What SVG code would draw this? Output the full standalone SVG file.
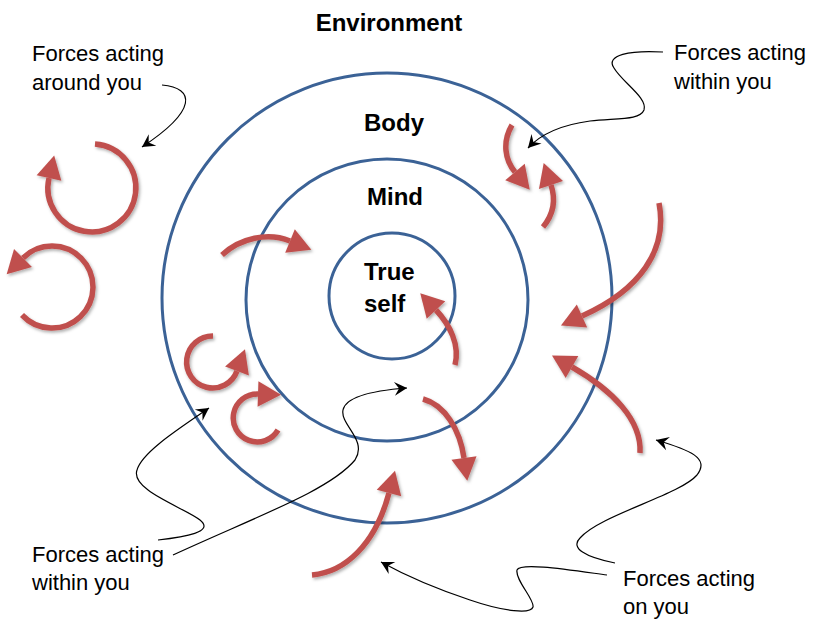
<svg xmlns="http://www.w3.org/2000/svg" width="820" height="633" viewBox="0 0 820 633">
<style>
.ring{fill:none;stroke:#3b6296;stroke-width:3}
.title{font-family:"Liberation Sans",Arial,sans-serif;font-weight:bold;font-size:24px;fill:#000}
.lbl{font-family:"Liberation Sans",Arial,sans-serif;font-size:22px;fill:#000}
.force{fill:none;stroke:#c0504d;stroke-width:5.5;marker-end:url(#rh)}
.ptr{fill:none;stroke:#000;stroke-width:1.2;marker-end:url(#bh)}
</style>
<defs>
<marker id="rh" markerUnits="userSpaceOnUse" markerWidth="30" markerHeight="30" viewBox="-2 -13 26 26" refX="0" refY="0" orient="auto">
<path d="M0,-11 L20,0 L0,11 Z" fill="#c0504d"/>
</marker>
<marker id="bh" markerUnits="userSpaceOnUse" markerWidth="16" markerHeight="16" viewBox="-12 -7 14 14" refX="0" refY="0" orient="auto">
<path d="M0,0 L-11,-6 L-7,0 L-11,6 Z" fill="#000"/>
</marker>
<filter id="sh" x="-20%" y="-20%" width="140%" height="140%">
<feDropShadow dx="1.5" dy="2" stdDeviation="1.5" flood-color="#000" flood-opacity="0.3"/>
</filter>
</defs>
<rect width="820" height="633" fill="#fff"/>

<g id="environment">
<text class="title" x="389" y="31" text-anchor="middle">Environment</text>
</g>
<g id="body">
<circle class="ring" cx="387" cy="298" r="225"/>
<text class="title" x="394" y="131" text-anchor="middle">Body</text>
</g>
<g id="mind">
<circle class="ring" cx="387" cy="300" r="141"/>
<text class="title" x="395" y="205" text-anchor="middle">Mind</text>
</g>
<g id="true-self">
<circle class="ring" cx="392" cy="296" r="63"/>
<text class="title" x="364" y="280">True</text>
<text class="title" x="364" y="312">self</text>
</g>

<g id="label-around">
<text class="lbl" x="32" y="61">Forces acting</text>
<text class="lbl" x="32" y="90">around you</text>
</g>
<g id="label-within-top">
<text class="lbl" x="674" y="60">Forces acting</text>
<text class="lbl" x="674" y="89">within you</text>
</g>
<g id="label-within-bottom">
<text class="lbl" x="32" y="562">Forces acting</text>
<text class="lbl" x="32" y="590">within you</text>
</g>
<g id="label-on">
<text class="lbl" x="623" y="586">Forces acting</text>
<text class="lbl" x="623" y="614">on you</text>
</g>

<g id="forces" filter="url(#sh)">
<path class="force" d="M95,144 A44,44 0 1 1 49,178"/>
<path class="force" d="M22,315 A41,41 0 1 0 23,258"/>
<path class="force" d="M222,255 C240,238 268,232 290,241"/>
<path class="force" d="M213,336 A26,26 0 1 0 237,371"/>
<path class="force" d="M278,430 A24,24 0 1 1 258,394"/>
<path class="force" d="M512,125 C502,142 505,160 515,172"/>
<path class="force" d="M543,227 C553,215 556,200 551,185"/>
<path class="force" d="M659,203 C668,250 640,290 582,316"/>
<path class="force" d="M455,365 C460,345 450,325 436,310"/>
<path class="force" d="M640,453 C642,420 612,390 572,367"/>
<path class="force" d="M423,399 C445,405 460,430 464,458"/>
<path class="force" d="M312,575 C345,572 375,545 389,493"/>
</g>

<g id="connectors">
<path class="ptr" d="M162,85 C195,88 198,110 142,147"/>
<path class="ptr" d="M663,52 C630,50 605,55 614,68 C622,82 648,98 644,110 C640,120 620,118 590,121 C560,125 540,135 528,148"/>
<path class="ptr" d="M158,540 C185,537 215,532 200,520 C185,508 130,490 137,470 C142,452 180,428 209,408"/>
<path class="ptr" d="M173,555 C260,515 330,490 355,460 C368,440 340,425 343,410 C346,395 380,390 407,388"/>
<path class="ptr" d="M615,563 C585,557 570,548 580,538 C600,515 680,495 697,475 C710,458 690,450 656,440"/>
<path class="ptr" d="M607,575 C570,570 520,562 517,570 C515,580 535,600 533,607 C531,614 505,612 470,600 C440,590 410,578 381,562"/>
</g>
</svg>
